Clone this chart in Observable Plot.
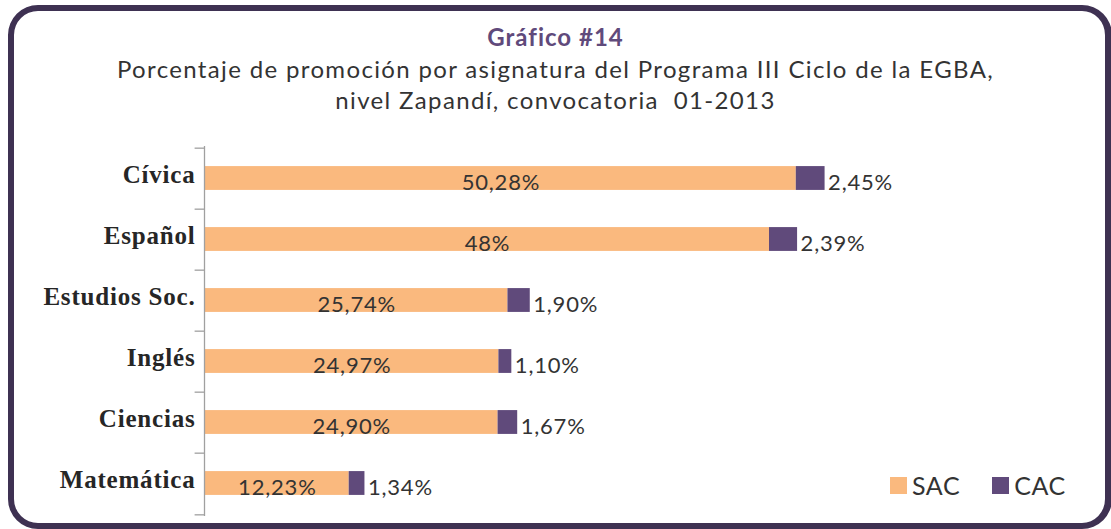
<!DOCTYPE html>
<html>
<head>
<meta charset="utf-8">
<script src="https://cdn.jsdelivr.net/npm/d3@7"></script>
<script src="https://cdn.jsdelivr.net/npm/@observablehq/plot@0.6"></script>
<style>
  html, body { margin: 0; padding: 0; background: #ffffff; }
  #wrap { position: relative; width: 1111px; height: 529px; overflow: hidden; font-family: Lato, sans-serif; }
  #frame { position: absolute; left: 8px; top: 5px; width: 1091px; height: 512px; border: 6px solid #3e3152; border-right-width: 7px; border-radius: 30px; }
  #head { position: absolute; left: 0; top: 21px; width: 1111px; text-align: center; }
  #title { font-weight: bold; font-size: 24px; color: #604a7b; line-height: 32px; letter-spacing: 1px; }
  #sub { font-size: 24px; color: #333; line-height: 31px; letter-spacing: 1.35px; }
  #chart { position: absolute; left: 0; top: 0; }
  #legend { position: absolute; left: 890px; top: 470px; font-size: 25px; color: #333; display: flex; align-items: center; letter-spacing: 0.6px; }
  .sw { display: inline-block; width: 17px; height: 17px; margin-right: 5px; }
  .item { display: flex; align-items: center; margin-right: 32px; }
</style>
</head>
<body>
<div id="wrap">
  <div id="frame"></div>
  <div id="head">
    <div id="title">Gráfico #14</div>
    <div id="sub">Porcentaje de promoción por asignatura del Programa III Ciclo de la EGBA,<br>nivel Zapandí, convocatoria&nbsp; 01-2013</div>
  </div>
  <div id="chart"></div>
  <div id="legend"></div>
</div>
<script>
const categories = ["Cívica", "Español", "Estudios Soc.", "Inglés", "Ciencias", "Matemática"];
const sacValues = [50.28, 48, 25.74, 24.97, 24.90, 12.23];
const cacValues = [2.45, 2.39, 1.90, 1.10, 1.67, 1.34];
const sacLabels = ["50,28%", "48%", "25,74%", "24,97%", "24,90%", "12,23%"];
const cacLabels = ["2,45%", "2,39%", "1,90%", "1,10%", "1,67%", "1,34%"];
const seriesNames = ["SAC", "CAC"];
const seriesColors = ["#fab97e", "#604a7b"];

const rows = categories.map((c, i) => ({
  cat: c, sac: sacValues[i], cac: cacValues[i], sacLabel: sacLabels[i], cacLabel: cacLabels[i]
}));
const stacked = [];
rows.forEach(r => {
  stacked.push({cat: r.cat, series: "SAC", x1: 0, x2: r.sac});
  stacked.push({cat: r.cat, series: "CAC", x1: r.sac, x2: r.sac + r.cac});
});

const H = 529, plotTop = 146, plotBottom = 516;
const step = (plotBottom - plotTop) / categories.length;
const inset = (step - 24.5) / 2;

const plot = Plot.plot({
  width: 1111,
  height: H,
  marginLeft: 205,
  marginRight: 201,
  marginTop: plotTop,
  marginBottom: H - plotBottom,
  style: { fontFamily: "Lato, sans-serif", background: "transparent", overflow: "visible", letterSpacing: "0.8px" },
  x: { domain: [0, 60], axis: null },
  y: { domain: categories, padding: 0, label: null },
  color: { domain: seriesNames, range: seriesColors },
  marks: [
    Plot.barX(stacked, { y: "cat", x1: "x1", x2: "x2", fill: "series", insetTop: inset, insetBottom: inset, dy: -0.5 }),
    Plot.ruleX([0], { stroke: "#a0a0a0", strokeWidth: 1.3, dx: -1 }),
    Plot.ruleY(categories, { y: d => d, x1: -0.8, x2: 0, dx: -1, dy: -step / 2, stroke: "#a0a0a0", strokeWidth: 1.3 }),
    Plot.ruleY([categories[categories.length - 1]], { y: d => d, x1: -0.8, x2: 0, dx: -1, dy: step / 2, stroke: "#a0a0a0", strokeWidth: 1.3 }),
    Plot.axisY({ tickSize: 0, tickPadding: 10, dy: -4, fontSize: 25, fontWeight: "bold", fontFamily: "Liberation Serif", fill: "#262626" }),
    Plot.text(rows, { y: "cat", x: d => d.sac / 2, text: "sacLabel", fontSize: 22, fill: "#333", dy: 4, textAnchor: "middle" }),
    Plot.text(rows, { y: "cat", x: d => d.sac + d.cac, text: "cacLabel", fontSize: 22, fill: "#333", dy: 4, dx: 3, textAnchor: "start" })
  ]
});
document.getElementById("chart").appendChild(plot);

const legend = document.getElementById("legend");
seriesNames.forEach((n, i) => {
  const it = document.createElement("div");
  it.className = "item";
  it.innerHTML = `<span class="sw" style="background:${seriesColors[i]}"></span><span>${n}</span>`;
  legend.appendChild(it);
});
</script>
</body>
</html>
